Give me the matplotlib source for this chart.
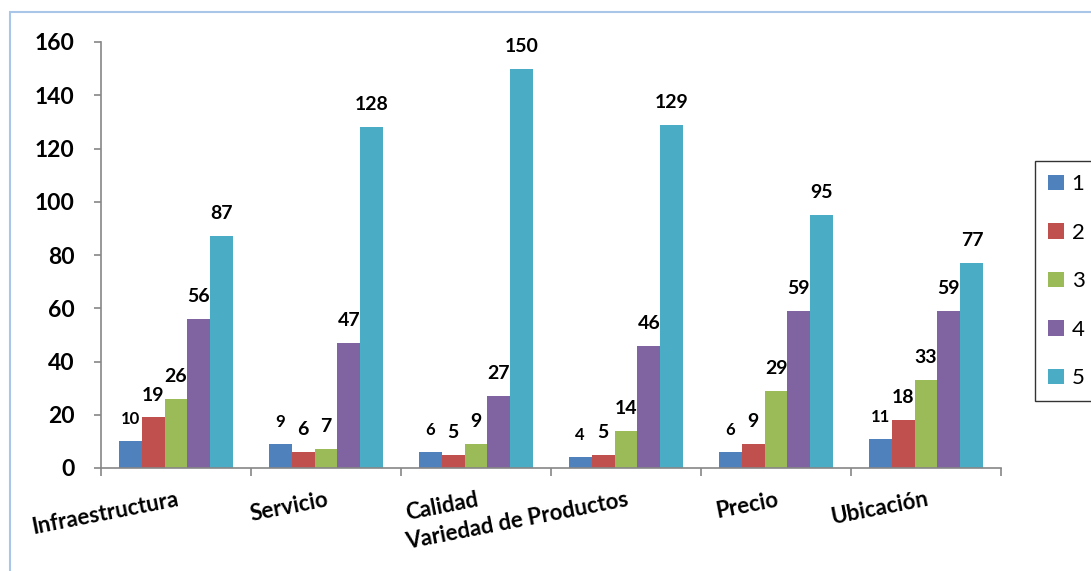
import numpy as np
import matplotlib
matplotlib.use("Agg")
import matplotlib.pyplot as plt
from matplotlib.patches import Rectangle

plt.rcParams['font.family'] = ['Lato', 'DejaVu Sans']

categorias = ["Infraestructura", "Servicio", "Calidad",
              "Variedad de Productos", "Precio", "Ubicación"]
serie_1 = [10, 9, 6, 4, 6, 11]
serie_2 = [19, 6, 5, 5, 9, 18]
serie_3 = [26, 7, 9, 14, 29, 33]
serie_4 = [56, 47, 27, 46, 59, 59]
serie_5 = [87, 128, 150, 129, 95, 77]
nombres = ["1", "2", "3", "4", "5"]
colores = ["#4F81BD", "#C0504D", "#9BBB59", "#8064A2", "#4BACC6"]

series = [serie_1, serie_2, serie_3, serie_4, serie_5]

W, H = 1091, 571
fig = plt.figure(figsize=(W / 100, H / 100), dpi=100)
ax = fig.add_axes([101 / W, 1 - 468 / H, 900 / W, 426 / H])

x = np.arange(len(categorias))
ancho = 0.153
for i, (vals, nom, col) in enumerate(zip(series, nombres, colores)):
    pos = x - 2.5 * ancho + (i + 0.5) * ancho
    ax.bar(pos, vals, ancho, color=col, label=nom, zorder=2)
    tam = 12 if i == 0 else 14
    for px, v in zip(pos, vals):
        ax.annotate(str(v), (px, v), xytext=(0, 10), textcoords="offset points",
                    ha="center", va="bottom", fontsize=tam, fontweight="bold")

ax.set_xlim(-0.5, len(categorias) - 0.5)
ax.set_ylim(0, 160)
ax.set_yticks(range(0, 161, 20))
ax.tick_params(axis="y", labelsize=16.5, length=5, width=1.2, color="#868686", pad=14)
for t in ax.get_yticklabels():
    t.set_fontweight("bold")

ax.set_xticks(x)
ax.set_xticklabels(categorias, rotation=11, ha="right", rotation_mode="anchor",
                   fontsize=16, fontweight="bold")
ax.set_xticks(np.arange(-0.5, len(categorias)), minor=True)
ax.tick_params(axis="x", which="major", length=0, pad=15)
ax.tick_params(axis="x", which="minor", length=6, width=1.2, color="#868686")

for s in ["top", "right"]:
    ax.spines[s].set_visible(False)
for s in ["left", "bottom"]:
    ax.spines[s].set_color("#868686")
    ax.spines[s].set_linewidth(1.2)

# borde exterior del grafico
fig.add_artist(Rectangle((10 / W, -0.2), 1.2, 1.2 - 12 / H, transform=fig.transFigure,
                         fill=False, edgecolor="#A9C5E8", linewidth=1.5))

leg = fig.legend(loc="upper left", bbox_to_anchor=(1035 / W, 1 - 161 / H),
                 fontsize=16, frameon=True, fancybox=False, edgecolor="black",
                 handlelength=0.7, handleheight=0.7, handletextpad=0.35,
                 labelspacing=1.28, borderpad=0.6, borderaxespad=0)
leg.get_frame().set_linewidth(1.0)

fig.savefig("out.png", dpi=100)
